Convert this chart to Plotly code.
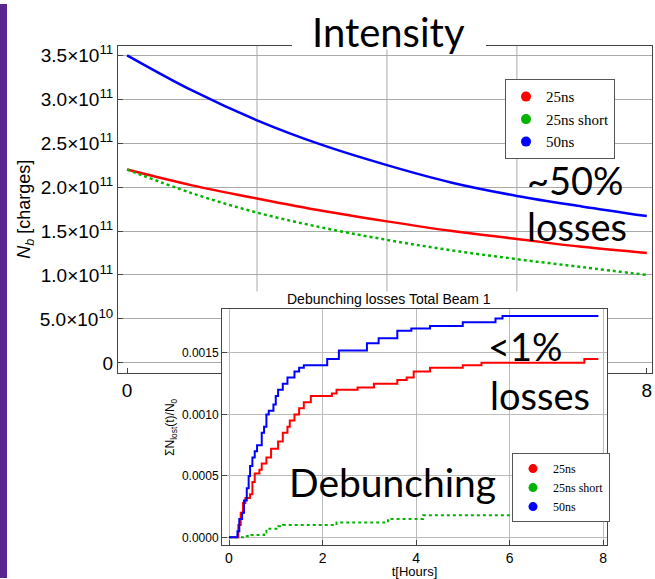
import plotly.graph_objects as go

t_main = [0, 1, 2, 3, 4, 5, 6, 7, 8]
nb_25 = [2.2e11, 2.02e11, 1.87e11, 1.73e11, 1.61e11, 1.50e11, 1.41e11, 1.32e11, 1.25e11]
nb_25s = [2.2e11, 1.93e11, 1.71e11, 1.54e11, 1.40e11, 1.28e11, 1.18e11, 1.09e11, 1.0e11]
nb_50 = [3.5e11, 3.1e11, 2.76e11, 2.48e11, 2.25e11, 2.05e11, 1.90e11, 1.78e11, 1.67e11]

b_t = [0, 0.15, 0.18, 0.22, 0.28, 0.32, 0.38, 0.42, 0.45, 0.5, 0.55, 0.6, 0.7, 0.75, 0.8, 0.85, 0.95, 1.0,
       1.05, 1.15, 1.25, 1.4, 1.5, 1.6, 2.1, 2.35, 2.95, 3.2, 3.6, 3.9, 4.3, 5.0, 5.7, 5.85, 7.9]
b_v = [0, 0, 0.00005, 0.00015, 0.0002, 0.0003, 0.0004, 0.0005, 0.00058, 0.00065, 0.0007, 0.00075, 0.00085,
       0.0009, 0.001, 0.00103, 0.00108, 0.00115, 0.0012, 0.00125, 0.0013, 0.00135, 0.00138, 0.0014, 0.00145,
       0.00152, 0.00158, 0.00162, 0.00168, 0.0017, 0.00172, 0.00175, 0.00178, 0.0018, 0.0018]
r_t = [0, 0.15, 0.2, 0.25, 0.3, 0.35, 0.45, 0.5, 0.55, 0.65, 0.7, 0.8, 0.9, 1.05, 1.15, 1.25, 1.3, 1.4, 1.5,
       1.6, 1.75, 2.2, 2.3, 2.75, 3.1, 3.6, 3.8, 3.95, 4.3, 5.0, 5.4, 7.6, 7.9]
r_v = [0, 0, 0.0001, 0.0002, 0.00028, 0.00032, 0.00035, 0.00045, 0.00052, 0.00055, 0.0006, 0.00065, 0.00072,
       0.00078, 0.00085, 0.0009, 0.00095, 0.001, 0.00105, 0.0011, 0.00115, 0.00117, 0.0012, 0.00122, 0.00125,
       0.00128, 0.0013, 0.00135, 0.00138, 0.0014, 0.00142, 0.00145, 0.00145]
g_t = [0, 0.3, 0.4, 0.75, 0.8, 1.05, 1.15, 2.3, 3.4, 4.15, 7.9]
g_v = [0, 0.00001, 0.00002, 0.00004, 0.00007, 0.00009, 0.0001, 0.00012, 0.00015, 0.00018, 0.00018]

names = ["25ns", "25ns short", "50ns"]
colors = ["#ff0000", "#00b400", "#0000ff"]

y_ticks = [0, 0.5e11, 1e11, 1.5e11, 2e11, 2.5e11, 3e11, 3.5e11]
y_text = ["0", "5.0×10<sup>10</sup>", "1.0×10<sup>11</sup>", "1.5×10<sup>11</sup>", "2.0×10<sup>11</sup>",
          "2.5×10<sup>11</sup>", "3.0×10<sup>11</sup>", "3.5×10<sup>11</sup>"]

fig = go.Figure()
for y, c, d in [(nb_25, colors[0], "solid"), (nb_25s, colors[1], "dot"), (nb_50, colors[2], "solid")]:
    fig.add_trace(go.Scatter(x=t_main, y=y, mode="lines", line=dict(color=c, width=2.5, dash=d, shape="spline"),
                             showlegend=False, xaxis="x", yaxis="y"))
for xs, ys, c, d in [(r_t, r_v, colors[0], "solid"), (g_t, g_v, colors[1], "dot"), (b_t, b_v, colors[2], "solid")]:
    fig.add_trace(go.Scatter(x=xs, y=ys, mode="lines", line=dict(color=c, width=2, dash=d, shape="hv"),
                             showlegend=False, xaxis="x2", yaxis="y2"))
for n, c in zip(names, colors):
    fig.add_trace(go.Scatter(x=[None], y=[None], mode="markers", marker=dict(color=c, size=10), name=n,
                             legend="legend", xaxis="x", yaxis="y"))
    fig.add_trace(go.Scatter(x=[None], y=[None], mode="markers", marker=dict(color=c, size=9), name=n,
                             legend="legend2", xaxis="x2", yaxis="y2"))

W, H = 655, 579
def px(x): return x / W
def py(y): return 1 - y / H

ax_common = dict(showline=True, mirror=True, linecolor="#444", ticks="inside", zeroline=False)
fig.update_layout(
    width=W, height=H, margin=dict(l=0, r=0, t=0, b=0),
    paper_bgcolor="white", plot_bgcolor="white", font=dict(family="Liberation Sans", color="black"),
    xaxis=dict(domain=[px(118), px(652)], range=[-0.14, 8.08], tickvals=[0, 2, 4, 6, 8],
               ticktext=["0", "", "", "", "8"], showgrid=False, tickfont=dict(size=19), anchor="y", **ax_common),
    yaxis=dict(domain=[py(372), py(42)], range=[-0.113e11, 3.61e11], tickvals=y_ticks, ticktext=y_text,
               showgrid=True, gridcolor="#aaa", tickfont=dict(size=19), anchor="x",
               title=dict(text="<i>N<sub>b</sub></i> [charges]", font=dict(size=18), standoff=4), **ax_common),
    xaxis2=dict(domain=[px(222), px(607)], range=[-0.15, 8.085], tickvals=[0, 2, 4, 6, 8], showgrid=True,
                gridcolor="#bbb", tickfont=dict(size=14), anchor="y2",
                title=dict(text="t[Hours]", font=dict(size=13), standoff=2), **ax_common),
    yaxis2=dict(domain=[py(546), py(308)], range=[-0.0000645, 0.001855], tickvals=[0, 0.0005, 0.001, 0.0015],
                ticktext=["0.0000", "0.0005", "0.0010", "0.0015"], showgrid=True, gridcolor="#bbb",
                tickfont=dict(size=12), anchor="x2",
                title=dict(text="ΣN<sub>lost</sub>(t)/N<sub>0</sub>", font=dict(size=12), standoff=4), **ax_common),
    legend=dict(x=px(505), y=py(76), xanchor="left", yanchor="top", bgcolor="white", bordercolor="#555",
                borderwidth=1, font=dict(family="Liberation Serif", size=15), tracegroupgap=0,
                itemwidth=30),
    legend2=dict(x=px(512), y=py(453), xanchor="left", yanchor="top", bgcolor="white", bordercolor="#555",
                 borderwidth=1, font=dict(family="Liberation Serif", size=12), tracegroupgap=0, itemwidth=30),
)

shapes = [
    dict(type="rect", xref="paper", yref="paper", x0=0, x1=px(7), y0=0, y1=1, fillcolor="#5a2590",
         line=dict(width=0), layer="above"),
    dict(type="rect", xref="paper", yref="paper", x0=px(292), x1=px(486), y0=py(46), y1=1, fillcolor="white",
         line=dict(width=0), layer="above"),
    dict(type="rect", xref="paper", yref="paper", x0=px(160), x1=px(651), y0=py(371), y1=py(290),
         fillcolor="white", line=dict(width=0), layer="below"),
]
for xv in [2, 4, 6]:
    shapes.append(dict(type="line", xref="x", yref="paper", x0=xv, x1=xv, y0=py(290), y1=py(42),
                       line=dict(color="#aaa", width=1), layer="below"))
fig.update_layout(shapes=shapes)

anns = [
    ("Intensity", 388, 28, 40), ("~50%", 575, 178, 38), ("losses", 577, 224, 38),
    ("<1%", 525, 345, 38), ("losses", 540, 394, 38), ("Debunching", 392, 482, 39),
    ("Debunching losses Total Beam 1", 389, 298, 14),
]
for txt, x, y, s in anns:
    fig.add_annotation(text=txt.replace("<", "&lt;"), x=px(x), y=py(y), xref="paper", yref="paper",
                       xanchor="center", yanchor="middle", showarrow=False,
                       font=dict(size=s, family="Lato" if s > 20 else "Liberation Sans", color="black"))

fig.write_html("out.html", config={"displayModeBar": False},
               post_script="document.body.style.margin='0';document.body.style.overflow='hidden';")
